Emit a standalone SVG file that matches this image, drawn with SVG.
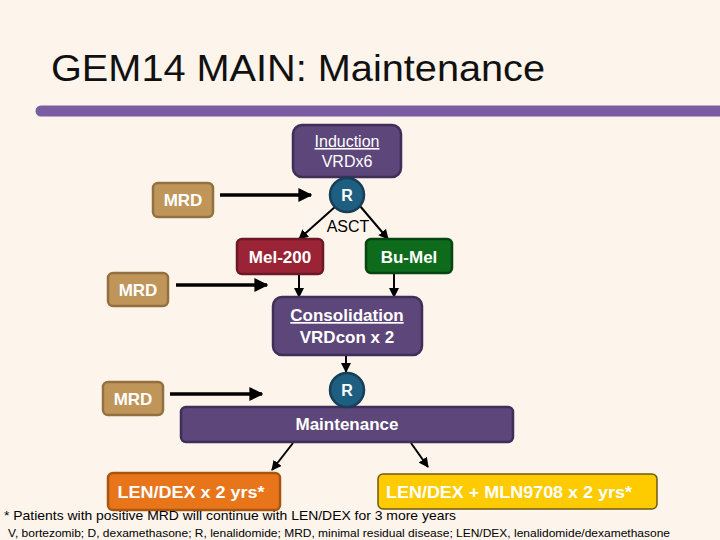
<svg xmlns="http://www.w3.org/2000/svg" width="720" height="540" viewBox="0 0 720 540">
<defs>
<marker id="ah" viewBox="0 0 10 10" refX="9" refY="5" markerWidth="4" markerHeight="4" orient="auto" markerUnits="strokeWidth"><path d="M0,0 L10,5 L0,10 z" fill="#000"/></marker>
<marker id="ahs" viewBox="0 0 10 10" refX="9" refY="5" markerWidth="5" markerHeight="5" orient="auto" markerUnits="strokeWidth"><path d="M0,0 L10,5 L0,10 z" fill="#000"/></marker>
</defs>
<style>
text{font-family:"Liberation Sans",Arial,sans-serif}
.w{fill:#fff;font-size:16px;text-anchor:middle}
.b{font-weight:bold}
.m{font-size:17px}
.u{text-decoration:underline}
.purple{fill:#5D4679;stroke:#3F2E58;stroke-width:2.5}
.tan{fill:#BF955A;stroke:#937040;stroke-width:2.5}
.circ{fill:#1E5E80;stroke:#173F57;stroke-width:2.5}
.thick{stroke:#000;stroke-width:3.5;fill:none;marker-end:url(#ah)}
.thin{stroke:#000;stroke-width:2;fill:none;marker-end:url(#ahs)}
</style>
<rect width="720" height="540" fill="#FDF4EC"/>
<text x="51" y="81" font-size="36" fill="#111" textLength="494" lengthAdjust="spacingAndGlyphs">GEM14 MAIN: Maintenance</text>
<line x1="41" y1="111" x2="725" y2="111" stroke="#7A5CA3" stroke-width="11" stroke-linecap="round"/>

<g id="connectors">
<line class="thick" x1="220" y1="195" x2="311" y2="195"/>
<line class="thin" x1="336" y1="206" x2="299" y2="239"/>
<line class="thin" x1="360" y1="206" x2="388" y2="239"/>
<line class="thick" x1="176" y1="285" x2="267" y2="285"/>
<line class="thin" x1="299" y1="274" x2="299" y2="297"/>
<line class="thin" x1="394" y1="274" x2="394" y2="297"/>
<line class="thin" x1="346" y1="355" x2="346" y2="372"/>
<line class="thick" x1="170" y1="394" x2="262" y2="394"/>
<line class="thin" x1="293" y1="443" x2="272" y2="470"/>
<line class="thin" x1="411" y1="443" x2="428" y2="467"/>
<text x="348" y="232" font-size="16" text-anchor="middle" fill="#000">ASCT</text>
</g>

<g id="induction">
<rect class="purple" x="293" y="125" width="108" height="52" rx="9"/>
<text class="w u" x="347" y="147">Induction</text>
<text class="w" x="347" y="167">VRDx6</text>
</g>

<g id="r1">
<circle class="circ" cx="347" cy="195" r="17"/>
<text class="w b" x="347" y="201">R</text>
</g>

<g id="mrd1">
<rect class="tan" x="153" y="183" width="60" height="34" rx="5"/>
<text class="w b m" x="183" y="206">MRD</text>
</g>

<g id="mel200">
<rect x="237" y="239" width="86" height="35" rx="5" fill="#9A2336" stroke="#6C1826" stroke-width="2.5"/>
<text class="w b m" x="280" y="263">Mel-200</text>
</g>

<g id="bumel">
<rect x="366" y="239" width="86" height="34" rx="5" fill="#0D6B1B" stroke="#064512" stroke-width="2.5"/>
<text class="w b m" x="409" y="263">Bu-Mel</text>
</g>

<g id="mrd2">
<rect class="tan" x="108" y="273" width="60" height="33" rx="5"/>
<text class="w b m" x="138" y="296">MRD</text>
</g>

<g id="consolidation">
<rect class="purple" x="273" y="297" width="149" height="58" rx="9"/>
<text class="w b u m" x="347" y="321">Consolidation</text>
<text class="w b m" x="347" y="343">VRDcon x 2</text>
</g>

<g id="maintenance">
<rect class="purple" x="181" y="407" width="332" height="35" rx="5"/>
<text class="w b m" x="347" y="430">Maintenance</text>
</g>

<g id="r2">
<circle class="circ" cx="347" cy="390" r="17"/>
<text class="w b" x="347" y="396">R</text>
</g>

<g id="mrd3">
<rect class="tan" x="103" y="382" width="60" height="33" rx="5"/>
<text class="w b m" x="133" y="405">MRD</text>
</g>

<g id="lendex">
<rect x="108" y="473" width="172" height="37" rx="5" fill="#E8751A" stroke="#A85510" stroke-width="2.5"/>
<text class="w b" x="191" y="498" font-size="18" textLength="147" lengthAdjust="spacingAndGlyphs">LEN/DEX x 2 yrs*</text>
</g>

<g id="lendexmln">
<rect x="378" y="474" width="279" height="35" rx="5" fill="#FECB00" stroke="#6E5A10" stroke-width="1.5"/>
<text class="w b" x="509" y="498" font-size="18" textLength="246" lengthAdjust="spacingAndGlyphs">LEN/DEX + MLN9708 x 2 yrs*</text>
</g>

<text x="4" y="520" font-size="13.5" fill="#000" textLength="452" lengthAdjust="spacingAndGlyphs">* Patients with positive MRD will continue with LEN/DEX for 3 more years</text>
<text x="8" y="537" font-size="11.5" fill="#000" textLength="662" lengthAdjust="spacingAndGlyphs">V, bortezomib; D, dexamethasone; R, lenalidomide; MRD, minimal residual disease; LEN/DEX, lenalidomide/dexamethasone</text>
</svg>
